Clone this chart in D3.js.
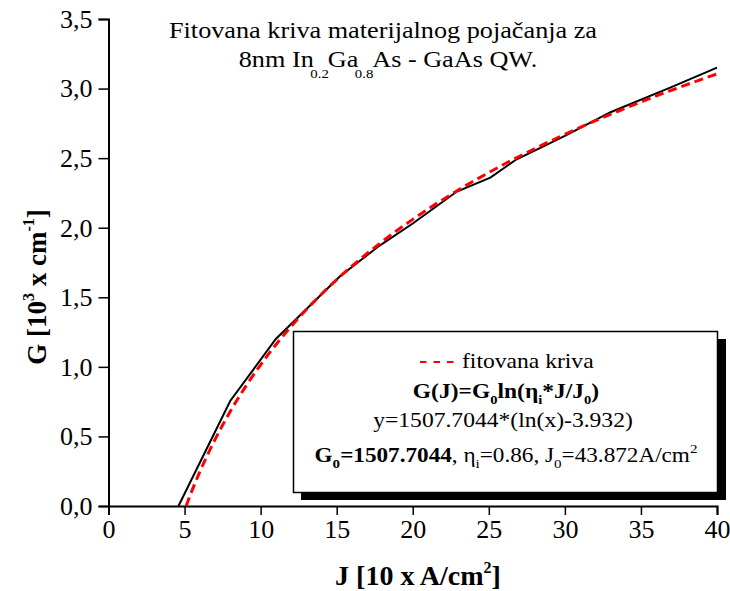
<!DOCTYPE html>
<html>
<head>
<meta charset="utf-8">
<script src="https://cdn.jsdelivr.net/npm/d3@7"></script>
<style>
  html, body { margin: 0; padding: 0; background: #fff; }
  svg text { font-family: "Liberation Serif", "Times New Roman", serif; fill: #000; }
</style>
</head>
<body>
<svg id="chart" width="730" height="591"></svg>
<script>
// Measured gain G (10^3 cm^-1) vs current density J (10 A/cm^2)
const measuredJ = [4.6, 8.0, 11.0, 15.2, 17.8, 20.0, 22.9, 25.1, 26.8, 30.0, 33.0, 37.0, 40.0];
const measuredG = [0.0, 0.755, 1.20, 1.65, 1.87, 2.03, 2.26, 2.36, 2.49, 2.66, 2.83, 3.01, 3.15];

// Fitted curve G(J) = G0 ln(eta_i * J / J0)
const fitJ = [5.1, 5.5, 6, 7, 8, 9, 10, 12, 14, 16, 18, 20, 23, 26, 30, 34, 37, 40];
const fitG = [0.0, 0.114, 0.245, 0.477, 0.679, 0.856, 1.015, 1.290, 1.522, 1.724, 1.901, 2.060, 2.271, 2.456, 2.671, 2.860, 2.988, 3.105];

const xTicks = [0, 5, 10, 15, 20, 25, 30, 35, 40];
const yTicks = [0, 0.5, 1.0, 1.5, 2.0, 2.5, 3.0, 3.5];

const svg = d3.select("#chart");
const x = d3.scaleLinear().domain([0, 40]).range([108.5, 717]);
const y = d3.scaleLinear().domain([0, 3.5]).range([506, 19]);
const fmt = d => d3.format(".1f")(d).replace(".", ",");

// minor ticks
const xMinor = d3.range(0, 41, 1).filter(v => v % 5 !== 0);
const yMinor = d3.range(0, 36, 1).map(v => v / 10).filter((v, i) => i % 5 !== 0);

const xAxisG = svg.append("g").attr("transform", `translate(0,${y(0)})`);
xAxisG.call(d3.axisBottom(x).tickValues(xMinor).tickSize(5).tickFormat(""));
xAxisG.call(d3.axisBottom(x).tickValues(xTicks).tickSize(9).tickPadding(5).tickFormat(d3.format("d")));
const yAxisG = svg.append("g").attr("transform", `translate(${x(0)},0)`);
yAxisG.call(d3.axisLeft(y).tickValues(yMinor).tickSize(5).tickFormat(""));
yAxisG.call(d3.axisLeft(y).tickValues(yTicks).tickSize(10).tickPadding(6).tickFormat(fmt));

svg.selectAll(".domain").attr("stroke", "#000").attr("stroke-width", 2);
svg.selectAll(".tick line").attr("stroke", "#000").attr("stroke-width", 1.5);
svg.selectAll(".tick text").style("font-family", "Liberation Serif").style("font-size", "26px");

// curves
const line = d3.line().x(d => x(d[0])).y(d => y(d[1]));
svg.append("path")
  .datum(d3.zip(measuredJ, measuredG))
  .attr("d", line).attr("fill", "none").attr("stroke", "#000").attr("stroke-width", 2);
svg.append("path")
  .datum(d3.zip(fitJ, fitG))
  .attr("d", d3.line().curve(d3.curveMonotoneX).x(d => x(d[0])).y(d => y(d[1])))
  .attr("fill", "none").attr("stroke", "#ff0000").attr("stroke-width", 3)
  .attr("stroke-dasharray", "9,5");

// text anchored at (cx, by), widened horizontally by sx
function wideText(parent, cx, by, sx, size, anchor) {
  return parent.append("text")
    .attr("transform", `translate(${cx},${by}) scale(${sx},1)`)
    .attr("text-anchor", anchor || "middle")
    .style("font-size", size + "px");
}

// title
wideText(svg, 383, 38, 1.14, 23).text("Fitovana kriva materijalnog pojačanja za");
const t2 = wideText(svg, 388, 67, 1.14, 23);
t2.append("tspan").text("8nm In");
t2.append("tspan").attr("dy", 11).attr("dx", -3).style("font-size", "13px").text("0.2");
t2.append("tspan").attr("dy", -11).attr("dx", -1).text("Ga");
t2.append("tspan").attr("dy", 11).attr("dx", -3).style("font-size", "13px").text("0.8");
t2.append("tspan").attr("dy", -11).attr("dx", -1).text("As - GaAs QW.");

// axis titles
const xt = svg.append("text").attr("x", 418).attr("y", 585).attr("text-anchor", "middle")
  .style("font-size", "28px").style("font-weight", "bold");
xt.append("tspan").text("J [10 x A/cm");
xt.append("tspan").attr("dy", -12).style("font-size", "16px").text("2");
xt.append("tspan").attr("dy", 12).text("]");

const yt = svg.append("text").attr("transform", "translate(46,287) rotate(-90)")
  .attr("text-anchor", "middle").style("font-size", "27px").style("font-weight", "bold");
yt.append("tspan").text("G [10");
yt.append("tspan").attr("dy", -12).style("font-size", "16px").text("3");
yt.append("tspan").attr("dy", 12).text(" x cm");
yt.append("tspan").attr("dy", -12).style("font-size", "16px").text("-1");
yt.append("tspan").attr("dy", 12).text("]");

// legend box with shadow
const lg = svg.append("g");
lg.append("rect").attr("x", 301).attr("y", 339).attr("width", 425).attr("height", 161).attr("fill", "#000");
lg.append("rect").attr("x", 293.5).attr("y", 331.5).attr("width", 424).attr("height", 161)
  .attr("fill", "#fff").attr("stroke", "#000").attr("stroke-width", 1.5);
lg.append("line").attr("x1", 420).attr("x2", 454).attr("y1", 362).attr("y2", 362)
  .attr("stroke", "#ff0000").attr("stroke-width", 2).attr("stroke-dasharray", "6.5,7");
wideText(lg, 462, 368, 1.18, 20, "start").text("fitovana kriva");

const l2 = wideText(lg, 506, 398, 1.12, 21).style("font-weight", "bold");
l2.append("tspan").text("G(J)=G");
l2.append("tspan").attr("dy", 6).style("font-size", "13px").text("0");
l2.append("tspan").attr("dy", -6).text("ln(η");
l2.append("tspan").attr("dy", 6).style("font-size", "13px").text("i");
l2.append("tspan").attr("dy", -6).text("*J/J");
l2.append("tspan").attr("dy", 6).style("font-size", "13px").text("0");
l2.append("tspan").attr("dy", -6).text(")");

wideText(lg, 503, 427, 1.18, 20).text("y=1507.7044*(ln(x)-3.932)");

const l4 = wideText(lg, 506, 462, 1.16, 20);
l4.append("tspan").style("font-weight", "bold").text("G");
l4.append("tspan").attr("dy", 6).style("font-size", "13px").style("font-weight", "bold").text("0");
l4.append("tspan").attr("dy", -6).style("font-weight", "bold").text("=1507.7044");
l4.append("tspan").text(", η");
l4.append("tspan").attr("dy", 6).style("font-size", "13px").text("i");
l4.append("tspan").attr("dy", -6).text("=0.86, J");
l4.append("tspan").attr("dy", 6).style("font-size", "13px").text("0");
l4.append("tspan").attr("dy", -6).text("=43.872A/cm");
l4.append("tspan").attr("dy", -9).style("font-size", "13px").text("2");
</script>
</body>
</html>
